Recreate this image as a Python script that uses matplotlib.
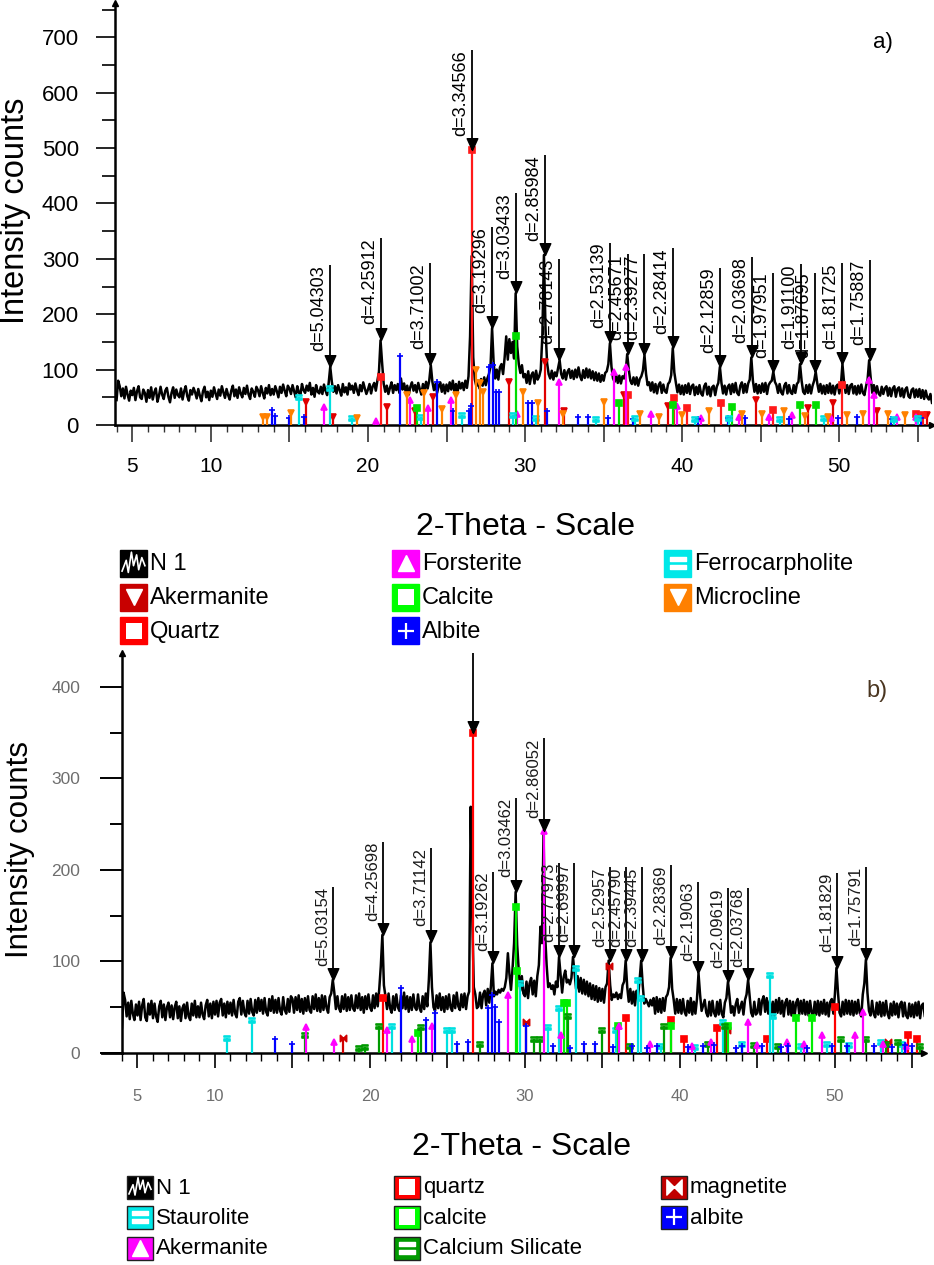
import numpy as np
import matplotlib
matplotlib.use("Agg")
import matplotlib.pyplot as plt
from matplotlib.path import Path
from matplotlib.patches import Rectangle
from matplotlib.lines import Line2D
from matplotlib.ticker import FixedLocator, MultipleLocator

plt.rcParams['font.family'] = ['Liberation Sans', 'DejaVu Sans']

W, H = 934, 1265

# --- measured pattern, panel a) : 2-theta 4.0 .. 55.9, step 0.1 ---
tth_a = np.round(np.arange(4.0, 55.95, 0.1), 1)
counts_a = [
    45, 80, 70, 52, 66, 48, 69, 55, 44, 62,
    54, 67, 45, 61, 70, 50, 47, 64, 58, 42,
    63, 49, 68, 46, 59, 66, 42, 53, 69, 55,
    47, 62, 67, 51, 41, 58, 68, 49, 64, 54,
    50, 66, 46, 61, 70, 52, 44, 63, 55, 67,
    59, 48, 65, 53, 43, 61, 69, 50, 60, 45,
    62, 51, 68, 57, 47, 64, 53, 70, 59, 49,
    65, 54, 46, 62, 71, 52, 64, 49, 68, 57,
    50, 67, 56, 71, 55, 47, 66, 60, 51, 69,
    63, 52, 70, 58, 48, 67, 57, 72, 54, 65,
    55, 70, 61, 50, 69, 58, 73, 62, 52, 71,
    66, 56, 72, 61, 50, 70, 59, 54, 74, 63,
    58, 71, 62, 76, 55, 67, 51, 72, 60, 57,
    69, 56, 73, 62, 54, 76, 105, 78, 60, 70,
    57, 72, 63, 53, 74, 59, 68, 55, 75, 64,
    71, 58, 75, 63, 54, 72, 61, 77, 66, 56,
    64, 74, 57, 70, 76, 62, 80, 96, 153, 112,
    75, 60, 71, 56, 67, 77, 58, 72, 63, 74,
    58, 84, 64, 75, 60, 71, 55, 69, 77, 62,
    72, 59, 76, 65, 55, 74, 62, 78, 66, 80,
    108, 78, 63, 74, 58, 70, 77, 60, 73, 57,
    73, 61, 77, 64, 80, 60, 74, 58, 78, 66,
    76, 63, 80, 67, 88, 160, 305, 122, 82, 70,
    80, 66, 83, 71, 86, 72, 84, 92, 105, 175,
    112, 84, 100, 82, 104, 110, 92, 122, 160, 118,
    155, 130, 150, 120, 238, 142, 110, 94, 108, 86,
    92, 76, 97, 74, 90, 95, 75, 98, 82, 88,
    100, 162, 307, 175, 112, 92, 84, 98, 82, 95,
    88, 102, 117, 92, 84, 99, 82, 96, 101, 85,
    98, 83, 100, 86, 104, 88, 81, 99, 85, 102,
    86, 100, 84, 97, 81, 95, 80, 93, 78, 90,
    80, 94, 97, 110, 148, 105, 84, 78, 90, 76,
    89, 75, 88, 84, 95, 128, 100, 80, 74, 86,
    73, 86, 71, 83, 88, 98, 126, 92, 72, 77,
    62, 77, 59, 74, 57, 72, 77, 58, 73, 61,
    58, 74, 78, 90, 139, 95, 76, 59, 73, 56,
    71, 55, 72, 58, 75, 56, 70, 73, 54, 69,
    56, 72, 57, 53, 70, 75, 55, 69, 52, 68,
    71, 54, 69, 76, 105, 76, 57, 71, 55, 69,
    73, 56, 74, 59, 76, 58, 54, 71, 77, 58,
    74, 59, 75, 82, 122, 80, 60, 74, 57, 72,
    58, 75, 60, 76, 56, 72, 77, 80, 96, 78,
    72, 58, 74, 59, 55, 71, 76, 57, 72, 59,
    56, 72, 58, 74, 78, 110, 80, 60, 56, 72,
    58, 73, 57, 71, 80, 96, 75, 60, 74, 57,
    71, 56, 72, 58, 75, 57, 71, 55, 70, 73,
    57, 72, 110, 78, 58, 72, 56, 71, 74, 57,
    70, 55, 71, 57, 73, 58, 54, 70, 82, 117,
    84, 58, 72, 55, 70, 57, 53, 69, 56, 66,
    70, 53, 67, 52, 66, 70, 51, 65, 68, 52,
    66, 50, 64, 68, 52, 49, 63, 66, 50, 64,
    51, 65, 49, 63, 47, 62, 50, 46, 56, 40,
]

# --- measured pattern, panel b) ---
tth_b = np.round(np.arange(4.0, 55.95, 0.1), 1)
counts_b = [
    28, 66, 58, 40, 55, 37, 57, 43, 36, 53,
    41, 56, 36, 52, 59, 39, 35, 54, 42, 57,
    38, 54, 40, 34, 51, 57, 39, 53, 36, 50,
    55, 39, 52, 37, 50, 56, 38, 51, 35, 49,
    53, 38, 55, 40, 36, 54, 41, 57, 39, 51,
    39, 55, 42, 37, 52, 58, 40, 54, 38, 56,
    42, 57, 40, 55, 59, 41, 54, 39, 56, 43,
    55, 41, 58, 43, 39, 56, 60, 42, 57, 44,
    40, 57, 43, 59, 45, 41, 58, 44, 60, 46,
    58, 43, 60, 45, 41, 59, 46, 62, 44, 58,
    44, 60, 46, 42, 61, 47, 43, 59, 45, 62,
    59, 44, 61, 47, 63, 45, 59, 43, 60, 46,
    62, 47, 44, 62, 48, 64, 46, 60, 45, 63,
    47, 62, 49, 44, 61, 65, 80, 66, 48, 62,
    49, 45, 62, 48, 64, 46, 61, 47, 63, 49,
    46, 63, 49, 65, 47, 61, 44, 62, 48, 64,
    50, 46, 63, 49, 65, 51, 70, 95, 129, 74,
    62, 48, 65, 49, 44, 62, 47, 64, 50, 46,
    63, 49, 66, 48, 62, 45, 61, 47, 64, 50,
    47, 64, 49, 45, 62, 48, 65, 51, 80, 121,
    72, 50, 46, 63, 49, 65, 47, 61, 45, 62,
    48, 64, 50, 46, 63, 49, 66, 51, 47, 64,
    50, 65, 48, 62, 67, 269, 150, 72, 64, 49,
    51, 66, 49, 64, 68, 52, 70, 55, 72, 98,
    62, 67, 64, 69, 66, 70, 68, 72, 82, 109,
    86, 69, 92, 120, 176, 118, 90, 68, 84, 65,
    62, 78, 60, 76, 82, 64, 79, 62, 84, 96,
    138, 120, 242, 130, 96, 72, 76, 70, 74, 64,
    78, 72, 105, 86, 66, 83, 90, 77, 80, 75,
    82, 105, 88, 70, 84, 67, 82, 65, 80, 64,
    78, 62, 76, 59, 74, 58, 73, 56, 71, 57,
    70, 55, 72, 76, 101, 74, 58, 64, 61, 66,
    59, 64, 60, 74, 78, 101, 72, 56, 70, 54,
    67, 52, 68, 62, 80, 101, 74, 54, 59, 55,
    51, 58, 52, 60, 43, 61, 45, 59, 44, 60,
    46, 61, 64, 72, 104, 70, 58, 43, 59, 44,
    58, 43, 59, 45, 41, 57, 44, 60, 42, 56,
    43, 59, 87, 64, 46, 52, 58, 44, 40, 56,
    41, 57, 44, 40, 56, 42, 58, 43, 39, 55,
    60, 78, 62, 44, 51, 41, 53, 59, 44, 50,
    56, 42, 58, 64, 80, 62, 44, 40, 56, 42,
    44, 59, 42, 57, 62, 45, 60, 43, 57, 41,
    56, 41, 58, 44, 60, 43, 57, 40, 55, 59,
    42, 57, 41, 56, 40, 55, 59, 42, 57, 43,
    58, 42, 56, 41, 57, 44, 40, 56, 42, 57,
    41, 56, 43, 58, 42, 55, 40, 56, 59, 43,
    64, 93, 66, 44, 40, 56, 42, 58, 43, 57,
    42, 57, 41, 56, 43, 58, 44, 40, 64, 76,
    102, 66, 46, 41, 57, 43, 39, 55, 42, 56,
    40, 55, 41, 57, 43, 38, 54, 41, 56, 42,
    54, 39, 53, 56, 40, 55, 41, 38, 54, 40,
    53, 39, 55, 41, 56, 38, 52, 54, 40, 37,
]

# --- labelled peaks ---
peak_a_tth = [17.57, 20.84, 23.97, 26.62, 27.92, 29.41, 31.25, 32.16, 35.43, 36.55,
              37.56, 39.42, 42.43, 44.44, 45.80, 47.54, 48.46, 50.16, 51.95]
peak_a_d = ['5.04303', '4.25912', '3.71002', '3.34566', '3.19296', '3.03433', '2.85984',
            '2.78143', '2.53139', '2.45671', '2.39277', '2.28414', '2.12859', '2.03698',
            '1.97951', '1.91100', '1.87695', '1.81725', '1.75887']
peak_a_cts = [105, 153, 108, 496, 175, 238, 307, 117, 148, 128, 126, 139, 105, 122, 96,
              110, 96, 110, 117]
peak_a_top = [289, 337, 292, 677, 357, 419, 487, 300, 329, 308, 308, 319, 284, 303, 275,
              290, 275, 292, 298]

peak_b_tth = [17.61, 20.85, 23.96, 26.63, 27.92, 29.41, 31.24, 32.18, 33.15, 35.46,
              36.53, 37.53, 39.43, 41.17, 43.12, 44.42, 50.13, 51.98]
peak_b_d = ['5.03154', '4.25698', '3.71142', '3.3441', '3.19262', '3.03462', '2.86052',
            '2.77973', '2.69997', '2.52957', '2.45790', '2.39445', '2.28369', '2.19063',
            '2.09619', '2.03768', '1.81829', '1.75791']
peak_b_cts = [80, 129, 121, 350, 98, 176, 242, 105, 105, 101, 101, 101, 104, 87, 78, 80,
              93, 102]
peak_b_top = [181, 231, 224, 438, 198, 279, 344, 208, 208, 203, 203, 203, 205, 187, 180,
              180, 197, 203]

# --- reference stick patterns, panel a) ---
akermanite_a_pos = [16.05, 17.8, 21.2, 23.0, 24.15, 29.0, 31.25, 32.5, 36.3, 39.1, 44.7,
                    48.0, 49.6, 52.4, 55.6]
akermanite_a_int = [41, 15, 33, 25, 50, 78, 114, 25, 54, 35, 45, 30, 40, 25, 18]
quartz_a_pos = [20.86, 26.64, 36.54, 39.47, 40.29, 42.45, 45.79, 50.14, 54.87, 55.33]
quartz_a_int = [87, 496, 55, 49, 30, 40, 27, 72, 20, 18]
forsterite_a_pos = [17.2, 20.5, 22.7, 23.8, 25.3, 29.5, 32.15, 35.65, 36.4, 38.0, 39.7,
                    41.2, 43.6, 45.5, 47.0, 49.5, 51.9, 52.2, 53.7, 54.9]
forsterite_a_int = [33, 8, 45, 30, 45, 20, 78, 96, 105, 20, 35, 12, 15, 14, 18, 12, 81,
                    55, 14, 15]
calcite_a_pos = [23.1, 29.41, 36.0, 39.4, 43.15, 47.5, 48.5]
calcite_a_int = [30, 160, 40, 36, 32, 36, 36]
albite_a_pos = [13.9, 14.1, 15.0, 15.9, 22.05, 24.4, 25.4, 26.4, 26.55, 27.7, 27.95, 28.15,
                28.35, 30.2, 30.45, 31.4, 33.4, 34.0, 35.3, 36.9, 41.0, 42.9, 44.0, 46.8,
                49.9, 51.1, 53.3, 55.2]
albite_a_int = [27, 17, 12, 15, 125, 78, 25, 25, 35, 105, 108, 60, 60, 40, 40, 25, 15, 15,
                12, 10, 10, 12, 12, 10, 12, 15, 10, 12]
ferro_a_pos = [15.6, 17.6, 19.0, 23.4, 26.0, 29.2, 30.7, 34.5, 37.0, 40.8, 43.0, 46.2,
               49.0, 53.5, 55.0]
ferro_a_int = [51, 67, 12, 15, 18, 18, 12, 10, 12, 10, 12, 10, 12, 10, 12]
microcline_a_pos = [13.3, 13.6, 15.1, 19.3, 22.5, 23.55, 24.7, 25.6, 26.9, 27.1, 27.3,
                    29.85, 30.8, 32.4, 35.0, 37.3, 38.5, 40.0, 41.7, 43.8, 45.1, 46.5,
                    47.8, 49.3, 50.5, 51.5, 53.1, 54.2]
microcline_a_int = [14, 15, 21, 12, 55, 58, 28, 55, 99, 75, 60, 60, 40, 20, 42, 20, 15,
                    18, 25, 20, 20, 25, 16, 15, 18, 20, 20, 18]

# --- reference stick patterns, panel b) ---
quartz_b_pos = [20.85, 26.63, 36.5, 39.45, 40.25, 42.4, 45.6, 50.0, 54.7, 55.3]
quartz_b_int = [60, 350, 38, 36, 15, 27, 15, 50, 20, 15]
magnetite_b_pos = [18.27, 30.05, 35.45, 43.05, 53.4]
magnetite_b_int = [16, 34, 95, 25, 12]
staurolite_b_pos = [10.8, 12.4, 21.4, 25.0, 25.3, 29.7, 31.5, 32.2, 33.3, 35.9, 37.3,
                    37.5, 38.8, 41.0, 42.8, 44.0, 45.8, 46.0, 47.8, 49.5, 50.9, 53.0, 54.3]
staurolite_b_int = [16, 36, 30, 25, 25, 76, 28, 49, 93, 25, 80, 60, 8, 7, 34, 10, 85, 40,
                    8, 10, 9, 12, 10]
calcite_b_pos = [23.1, 29.4, 29.5, 32.5, 32.7, 36.0, 39.4, 43.1, 47.5, 48.5]
calcite_b_int = [22, 160, 90, 55, 55, 30, 30, 30, 38, 38]
akermanite_b_pos = [15.9, 17.7, 21.1, 22.7, 24.0, 28.9, 31.24, 32.3, 36.1, 38.1, 40.8,
                    42.0, 44.4, 45.0, 46.9, 48.0, 49.2, 51.3, 51.8, 53.1, 54.6]
akermanite_b_int = [28, 12, 25, 15, 30, 63, 242, 20, 30, 10, 8, 12, 34, 9, 12, 10, 20,
                    20, 45, 10, 8]
casil_b_pos = [15.8, 19.3, 19.7, 20.6, 23.3, 27.1, 30.6, 31.0, 32.8, 35.0, 36.8, 39.0,
               41.8, 42.9, 44.8, 46.3, 50.4, 52.0, 53.3, 54.05, 55.5]
casil_b_int = [20, 6, 7, 30, 28, 10, 15, 15, 40, 25, 8, 30, 10, 30, 9, 8, 15, 15, 10, 12, 8]
albite_b_pos = [13.9, 15.0, 22.0, 23.6, 24.2, 25.6, 26.3, 27.6, 27.85, 28.05, 28.3, 30.1,
                31.8, 32.9, 33.8, 34.5, 35.7, 36.9, 37.9, 38.5, 40.5, 41.5, 42.2, 43.6,
                44.0, 45.3, 46.5, 47.0, 48.2, 49.8, 50.8, 52.5, 53.7, 54.5, 55.0]
albite_b_int = [15, 10, 71, 36, 44, 10, 12, 49, 63, 50, 34, 30, 8, 6, 10, 10, 7, 8, 6, 8,
                7, 8, 9, 6, 8, 8, 7, 8, 6, 8, 8, 8, 7, 9, 8]

# --- marker shapes ---
MV, LT, CP = Path.MOVETO, Path.LINETO, Path.CLOSEPOLY
tip_down = Path([(-0.45, 1.0), (0.45, 1.0), (0.0, 0.0), (-0.45, 1.0)], [MV, LT, LT, CP])
bars = Path([(-1, 0.2), (1, 0.2), (1, 0.8), (-1, 0.8), (-1, 0.2),
             (-1, -0.8), (1, -0.8), (1, -0.2), (-1, -0.2), (-1, -0.8)],
            [MV, LT, LT, LT, CP] * 2)
bowtie = Path([(-1, -1), (0, 0), (-1, 1), (-1, -1), (1, -1), (0, 0), (1, 1), (1, -1)],
              [MV, LT, LT, CP] * 2)


def px(x, y):
    return x / W, 1 - y / H


fig = plt.figure(figsize=(W / 100, H / 100), dpi=100)
ax_a = fig.add_axes([115 / W, 1 - 425 / H, 817 / W, 422 / H])
ax_b = fig.add_axes([122 / W, 1 - 1053 / H, 802 / W, 400 / H])


def draw_sticks(ax, sticks):
    for pos, ints, color, marker in sticks:
        ax.vlines(pos, 0, ints, colors=color, lw=1.6, zorder=3)
        ax.plot(pos, ints, ls='none', marker=marker, color=color, ms=4.5, mew=1.2, zorder=3)


def draw_peaks(ax, tth, dlab, cts, top, fs, tcol):
    ax.vlines(tth, cts, top, colors='black', lw=1.3, zorder=5)
    ax.plot(tth, cts, ls='none', marker=tip_down, ms=17, color='black', zorder=6)
    for x, d, t in zip(tth, dlab, top):
        ax.annotate('d=' + d, xy=(x, t), xytext=(-2, 0), textcoords='offset points',
                    rotation=90, ha='right', va='top', fontsize=fs, color=tcol, zorder=6)


# ---------------- panel a) ----------------
sticks_a = [
    (akermanite_a_pos, akermanite_a_int, '#e00000', 'v'),
    (quartz_a_pos, quartz_a_int, '#ff1a1a', 's'),
    (forsterite_a_pos, forsterite_a_int, '#ff00ff', '^'),
    (calcite_a_pos, calcite_a_int, '#00dd00', 's'),
    (albite_a_pos, albite_a_int, '#0000ff', '+'),
    (ferro_a_pos, ferro_a_int, '#00e0e0', bars),
    (microcline_a_pos, microcline_a_int, '#ff8000', 'v'),
]
ax_a.plot(tth_a, counts_a, color='black', lw=1.8, zorder=2)
draw_sticks(ax_a, sticks_a)
draw_peaks(ax_a, peak_a_tth, peak_a_d, peak_a_cts, peak_a_top, 13, 'black')

ax_a.set_xlim(3.9, 55.9)
ax_a.set_ylim(0, 762)
ax_a.xaxis.set_major_locator(FixedLocator([5, 10, 15, 20, 25, 30, 35, 40, 45, 50, 55]))
ax_a.set_xticklabels(['5', '10', '', '20', '', '30', '', '40', '', '50', ''])
ax_a.xaxis.set_minor_locator(MultipleLocator(1))
ax_a.yaxis.set_major_locator(MultipleLocator(100))
ax_a.yaxis.set_minor_locator(MultipleLocator(50))
ax_a.tick_params(axis='x', which='major', length=12, width=1.2, labelsize=15, pad=11,
                 color='#333333')
ax_a.tick_params(axis='x', which='minor', length=5, width=1.0, color='#333333')
ax_a.tick_params(axis='y', which='major', length=14, width=1.2, labelsize=16, pad=12)
ax_a.tick_params(axis='y', which='minor', length=9.5, width=1.2)
ax_a.text(0.94, 0.907, 'a)', transform=ax_a.transAxes, fontsize=16, ha='center', va='center')

# ---------------- panel b) ----------------
sticks_b = [
    (quartz_b_pos, quartz_b_int, '#ff0000', 's'),
    (magnetite_b_pos, magnetite_b_int, '#d00000', bowtie),
    (staurolite_b_pos, staurolite_b_int, '#00e0e0', bars),
    (calcite_b_pos, calcite_b_int, '#00ee00', 's'),
    (casil_b_pos, casil_b_int, '#009a00', bars),
    (akermanite_b_pos, akermanite_b_int, '#ff00ff', '^'),
    (albite_b_pos, albite_b_int, '#0000ff', '+'),
]
ax_b.plot(tth_b, counts_b, color='black', lw=1.8, zorder=2)
draw_sticks(ax_b, sticks_b)
draw_peaks(ax_b, peak_b_tth, peak_b_d, peak_b_cts, peak_b_top, 12, '#1a1a1a')

ax_b.set_xlim(4.0, 55.75)
ax_b.set_ylim(0, 437)
ax_b.xaxis.set_major_locator(FixedLocator([5, 10, 15, 20, 25, 30, 35, 40, 45, 50, 55]))
ax_b.set_xticklabels(['5', '10', '', '20', '', '30', '', '40', '', '50', ''])
ax_b.xaxis.set_minor_locator(MultipleLocator(1))
ax_b.yaxis.set_major_locator(MultipleLocator(100))
ax_b.yaxis.set_minor_locator(MultipleLocator(50))
ax_b.tick_params(axis='x', which='major', length=11, width=1.2, labelsize=12, pad=15,
                 labelcolor='#6e6e6e')
ax_b.tick_params(axis='x', which='minor', length=5.5, width=1.0)
ax_b.tick_params(axis='y', which='major', length=16, width=1.4, labelsize=12.5, pad=14,
                 labelcolor='#6e6e6e')
ax_b.tick_params(axis='y', which='minor', length=9, width=1.4)
ax_b.text(0.941, 0.905, 'b)', transform=ax_b.transAxes, fontsize=17, ha='center',
          va='center', color='#4a3520')
ax_b.plot([2.7, 4.0], [0, 0], color='black', lw=2, clip_on=False)

for ax in (ax_a, ax_b):
    for side in ('top', 'right'):
        ax.spines[side].set_visible(False)
    ax.spines['left'].set_linewidth(1.8)
    ax.spines['bottom'].set_linewidth(1.8)
    x0, x1 = ax.get_xlim()
    y1 = ax.get_ylim()[1]
    ax.plot([x0], [y1], marker='^', ms=5, color='black', clip_on=False, zorder=7)
    ax.plot([x1], [0], marker='>', ms=5, color='black', clip_on=False, zorder=7)

# axis titles
fig.text(*px(16, 211), 'Intensity counts', rotation=90, fontsize=23.5, ha='center', va='center')
fig.text(*px(20, 849), 'Intensity counts', rotation=90, fontsize=22.5, ha='center', va='center')
fig.text(*px(525, 527), '2-Theta - Scale', fontsize=23, ha='center', va='center')
fig.text(*px(521, 1147), '2-Theta - Scale', fontsize=23, ha='center', va='center')

# ---------------- legends ----------------
legend_a_names = ['N 1', 'Akermanite', 'Quartz', 'Forsterite', 'Calcite', 'Albite',
                  'Ferrocarpholite', 'Microcline']
legend_a_colors = ['black', '#c80000', '#ff0000', '#ff00ff', '#00ff00', '#0000ff',
                   '#00e8e8', '#ff8000']
legend_a_symbols = ['zig', 'v', 'sq', '^', 'sq', '+', '=', 'v']
legend_b_names = ['N 1', 'Staurolite', 'Akermanite', 'quartz', 'calcite',
                  'Calcium Silicate', 'magnetite', 'albite']
legend_b_colors = ['black', '#00e8e8', '#ff00ff', '#ff0000', '#00ff00', '#009a00',
                   '#c00000', '#0000ff']
legend_b_symbols = ['zig', '=', '^', 'sq', 'sq', '=', 'bow', '+']


def legend_block(names, colors, symbols, col_x, row_y, iw, ih, fs, border):
    for i, (name, color, sym) in enumerate(zip(names, colors, symbols)):
        x0 = col_x[i // 3]
        yc = row_y[i % 3]
        fig.add_artist(Rectangle(px(x0, yc + ih / 2), iw / W, ih / H,
                                 transform=fig.transFigure, facecolor=color,
                                 edgecolor='#202020' if border else color, lw=1.0))
        xc, ycf = px(x0 + iw / 2, yc)
        if sym == 'zig':
            zx = np.array([2, 6, 8, 11, 13, 16, 18, 21, 24]) / 26 * iw + x0
            zy = np.array([0.3, -0.1, 0.35, -0.4, 0.1, -0.3, 0.25, -0.2, 0.1]) * ih + yc
            fig.add_artist(Line2D(zx / W, 1 - zy / H, transform=fig.transFigure,
                                  color='white', lw=1.2))
        else:
            mk = {'v': 'v', '^': '^', 'sq': 's', '+': '+', '=': bars, 'bow': bowtie}[sym]
            kw = dict(ms=11, color='white')
            if sym == 'sq':
                kw = dict(ms=11, mfc='white', mec=color, mew=0)
            if sym == '+':
                kw = dict(ms=12, color='white', mew=1.6)
            fig.add_artist(Line2D([xc], [ycf], transform=fig.transFigure, marker=mk,
                                  ls='none', **kw))
        fig.text(*px(x0 + iw + 3, yc + 1), name, fontsize=fs, ha='left', va='center')


legend_block(legend_a_names, legend_a_colors, legend_a_symbols,
             [120, 392, 664], [563, 597, 631], 27, 27, 17, False)
legend_block(legend_b_names, legend_b_colors, legend_b_symbols,
             [127, 394, 661], [1187, 1217, 1248], 26, 23, 16, True)

fig.savefig('out.png', dpi=100)
